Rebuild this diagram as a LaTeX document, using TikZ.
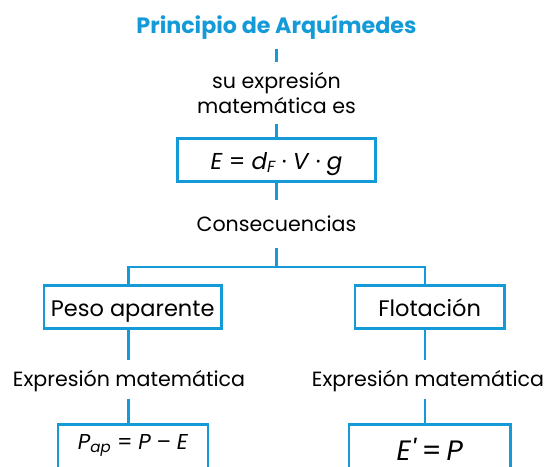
\documentclass[tikz,border=0pt]{standalone}
\usepackage{fontspec}
\setmainfont{Poppins}
\usetikzlibrary{positioning}

\definecolor{arqblue}{RGB}{20,155,215}

\tikzset{
  link/.style={draw=arqblue, line width=2.6pt},
  note/.style={inner sep=0pt, font=\fontsize{20.6}{25.7}\selectfont},
  lbl/.style={note, text height=16pt, text depth=2pt},
  headline/.style={lbl, text=arqblue, font=\fontsize{22.2}{26}\selectfont\bfseries},
  concept/.style={draw=arqblue, line width=2.6pt, inner sep=0pt, text height=18pt,
    text depth=0pt, minimum height=43.4pt, font=\fontsize{22.5}{26}\selectfont},
}

\begin{document}
\begin{tikzpicture}[x=1pt,y=-1pt]
  \useasboundingbox (0,0) rectangle (549,466);
  \clip (0,0) rectangle (549,466);

  % Nodes

  \node[headline, minimum height=45.4pt] (principle) at (276.5,26.3) {Principio de Arquímedes};
  \node[note, align=center, minimum height=62pt] (wording) at (276.5,93) {su expresión\\matemática es};
  \node[concept, minimum width=197.7pt, font=\fontsize{23}{26}\selectfont] (law) at (276.5,160)
    {\textit{E} = \textit{d}\textsubscript{\itshape F} · \textit{V} · \textit{g}};
  \node[lbl, minimum height=48pt] (effects) at (276.5,224) {Consecuencias};

  \node[concept, minimum width=177.4pt] (weight) at (132.7,307) {Peso aparente};
  \node[concept, minimum width=149.6pt] (floating) at (429.6,307) {Flotación};

  \node[lbl, minimum height=38.3pt] (exprw) at (129,379.8) {Expresión matemática};
  \node[lbl, minimum height=38.3pt] (exprf) at (428,379.8) {Expresión matemática};

  \node[concept, anchor=north, minimum width=150pt, minimum height=48pt,
    text height=11pt, text depth=9pt, font=\fontsize{21.5}{24}\selectfont] (wlaw) at (133,423)
    {\textit{P}\textsubscript{\itshape ap} = \textit{P} – \textit{E}};
  \node[concept, anchor=north, minimum width=161.7pt, minimum height=60pt,
    text height=14pt, text depth=1pt, font=\fontsize{28}{32}\selectfont] (flaw) at (429.8,423)
    {\textit{E\textquotesingle}\,=\,\textit{P}};

  % Edges

  \coordinate (fork) at (276.5,267);
  \coordinate (forkw) at (128.5,267);
  \coordinate (forkf) at (425,267);

  \draw[link] (principle) -- (wording);
  \draw[link] (wording) -- (law);
  \draw[link] (law) -- (effects);
  \draw[link] (effects) -- (fork);
  \draw[link] (forkw |- weight.north) -- (forkw) -- (forkf) -- (forkf |- floating.north);

  \draw[link] (forkw |- weight.south) -- (forkw |- exprw.north);
  \draw[link] (forkw |- exprw.south) -- (forkw |- wlaw.north);
  \draw[link] (forkf |- floating.south) -- (forkf |- exprf.north);
  \draw[link] (forkf |- exprf.south) -- (forkf |- flaw.north);

\end{tikzpicture}
\end{document}
